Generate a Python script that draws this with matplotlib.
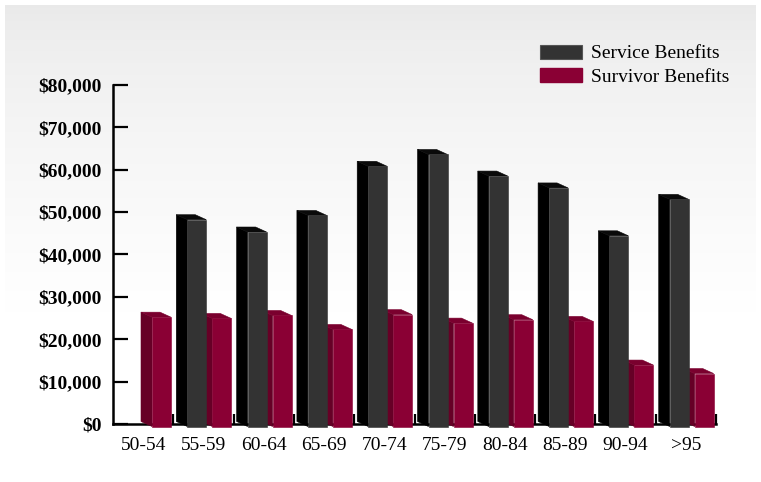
import numpy as np
import matplotlib
matplotlib.use('Agg')
import matplotlib.pyplot as plt
from matplotlib.patches import Polygon, Patch

plt.rcParams['font.family'] = ['Liberation Serif', 'DejaVu Serif']

ages = ['50-54', '55-59', '60-64', '65-69', '70-74', '75-79', '80-84', '85-89', '90-94', '>95']
service = [0, 48800, 45900, 49800, 61400, 64200, 59100, 56300, 45000, 53600]
survivor = [25800, 25500, 26200, 22900, 26400, 24400, 25200, 24800, 14500, 12500]

fig = plt.figure(figsize=(7.61, 4.82), dpi=100)

# grey-to-white backdrop panel, darker at the top
bg = fig.add_axes([5/761, 5/482, 751/761, 472/482], zorder=-5)
grad = np.linspace(0, 1, 256)
shade = 0.915 + 0.085 * np.clip(grad / 0.65, 0, 1) ** 0.7
bg.imshow(np.dstack([shade, shade, shade]).reshape(256, 1, 3),
          aspect='auto', extent=[0, 1, 0, 1])
bg.axis('off')

ax = fig.add_axes([113/761, 1 - 424/482, 603/761, 339/482])
ax.set_facecolor('none')
ax.set_xlim(0, 10)
ax.set_ylim(0, 80000)

# pseudo-3D geometry (depth goes up and to the left)
px_x = 10 / 603
px_y = 80000 / 339
dx = 11 * px_x
dy = 5 * px_y
w = 19 * px_x


def bar3d(x_front, val, front, side, top):
    xb = x_front - dx
    yf0, yf1 = -0.5 * dy, val - 0.5 * dy
    yb0, yb1 = 0.5 * dy, val + 0.5 * dy
    faces = [
        ([(xb, yb0), (xb, yb1), (x_front, yf1), (x_front, yf0)], side),
        ([(xb, yb1), (xb + w, yb1), (x_front + w, yf1), (x_front, yf1)], top),
        ([(x_front, yf0), (x_front, yf1), (x_front + w, yf1), (x_front + w, yf0)], front),
    ]
    for pts, c in faces:
        ax.add_patch(Polygon(pts, closed=True, facecolor=c, edgecolor=c,
                             lw=0.4, zorder=4, clip_on=False))


for i in range(len(ages)):
    if survivor[i] > 0:
        bar3d(i + 39 * px_x, survivor[i], '#8a0034', '#660026', '#7a002e')
    if service[i] > 0:
        bar3d(i + 14 * px_x, service[i], '#333333', '#000000', '#0a0a0a')

for s in ['top', 'right']:
    ax.spines[s].set_visible(False)
for s in ['left', 'bottom']:
    ax.spines[s].set_linewidth(1.8)
    ax.spines[s].set_zorder(3)

ax.set_yticks(np.arange(0, 80001, 10000))
ax.set_yticklabels(['${:,}'.format(v) for v in range(0, 80001, 10000)],
                   fontsize=14, fontweight='bold')
ax.tick_params(axis='y', direction='in', length=11, width=1.6, pad=8)

ax.set_xticks(np.arange(1, 11))
ax.set_xticklabels([])
ax.set_xticks(np.arange(10) + 0.5, minor=True)
ax.set_xticklabels(ages, minor=True, fontsize=14)
ax.tick_params(axis='x', which='major', direction='in', length=7, width=1.6)
ax.tick_params(axis='x', which='minor', length=0, pad=9)

handles = [Patch(facecolor='#333333', edgecolor='#555555', lw=0.8),
           Patch(facecolor='#8a0034', edgecolor='#8a0034')]
fig.legend(handles, ['Service Benefits', 'Survivor Benefits'],
           loc='upper left', bbox_to_anchor=(522/761, 1 - 27/482),
           frameon=False, fontsize=14, handlelength=2.2, handleheight=0.75,
           handletextpad=0.45, labelspacing=0.3)

fig.savefig('out.png', dpi=100)
